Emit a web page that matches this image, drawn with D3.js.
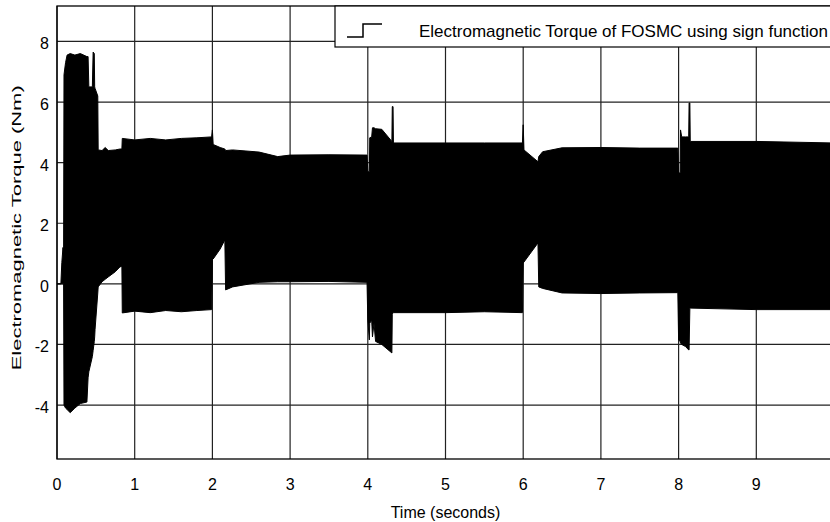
<!DOCTYPE html>
<html>
<head>
<meta charset="utf-8">
<script src="https://cdn.jsdelivr.net/npm/d3@7"></script>
<style>
  body { margin: 0; background: #fff; }
  svg { display: block; }
  text { font-family: "Liberation Sans", Arial, sans-serif; fill: #000; }
</style>
</head>
<body>
<div id="d3container"></div>
<script>
// envelope of the chattering torque signal
const timeS = [
  0.000, 0.050, 0.062, 0.077, 0.085, 0.090, 0.110, 0.130, 0.170, 0.230,
  0.300, 0.385, 0.400, 0.410, 0.455, 0.465, 0.480, 0.485, 0.490, 0.525,
  0.530, 0.580, 0.620, 0.660, 0.750, 0.810, 0.835, 0.840, 1.000, 1.200,
  1.400, 1.600, 1.800, 1.990, 2.000, 2.010, 2.100, 2.160, 2.170, 2.260,
  2.600, 2.840, 3.000, 3.500, 3.990, 4.000, 4.020, 4.025, 4.050, 4.060,
  4.080, 4.100, 4.180, 4.310, 4.315, 4.325, 4.330, 5.000, 5.500, 5.990,
  6.000, 6.010, 6.190, 6.200, 6.250, 6.500, 7.000, 7.500, 7.990, 8.000,
  8.020, 8.025, 8.040, 8.090, 8.130, 8.135, 8.145, 8.150, 9.000, 10.000
];
const torqueMax = [
  0.00, 0.00, 0.70, 1.20, 1.00, 6.90, 7.30, 7.55, 7.60, 7.55,
  7.60, 7.50, 7.50, 6.50, 6.50, 7.65, 7.60, 6.50, 6.45, 6.20,
  4.42, 4.40, 4.50, 4.40, 4.42, 4.45, 4.45, 4.80, 4.75, 4.80,
  4.75, 4.80, 4.82, 4.85, 5.08, 4.60, 4.50, 4.45, 4.40, 4.42,
  4.35, 4.20, 4.25, 4.26, 4.25, 3.70, 3.70, 4.82, 4.85, 5.15,
  5.15, 5.12, 5.10, 4.70, 5.85, 5.85, 4.65, 4.65, 4.65, 4.65,
  5.25, 4.42, 4.03, 4.20, 4.36, 4.49, 4.50, 4.48, 4.48, 3.66,
  3.66, 5.08, 4.85, 4.85, 4.85, 5.97, 5.97, 4.70, 4.70, 4.65
];
const torqueMin = [
  0.00, 0.00, 0.00, 0.00, 0.00, -4.00, -4.10, -4.15, -4.25, -4.10,
  -3.95, -3.90, -3.10, -2.90, -2.40, -2.20, -1.90, -1.75, -1.50, -0.30,
  -0.10, 0.07, 0.15, 0.23, 0.40, 0.56, 0.58, -0.96, -0.90, -0.95,
  -0.88, -0.92, -0.88, -0.85, 0.80, 0.82, 1.15, 1.45, -0.20, -0.10,
  0.05, 0.07, 0.07, 0.08, 0.05, -1.20, -1.85, -1.30, -1.20, -1.75,
  -1.30, -1.90, -2.00, -2.28, -1.00, -0.95, -0.95, -0.95, -0.92, -0.95,
  0.69, 0.72, 1.35, -0.10, -0.15, -0.30, -0.32, -0.30, -0.29, -1.85,
  -1.90, -1.95, -2.00, -2.07, -2.18, -2.18, -0.80, -0.80, -0.85, -0.85
];
const xTicks = [0, 1, 2, 3, 4, 5, 6, 7, 8, 9];   // 10 sits just past the window edge
const yTicks = [-4, -2, 0, 2, 4, 6, 8];
const legendLabel = "Electromagnetic Torque of FOSMC using sign function";

const margin = { top: 6, left: 57 };
const width = 777;   // plot runs slightly past the window edge
const height = 453;

const data = timeS.map((t, i) => ({ t: t, hi: torqueMax[i], lo: torqueMin[i] }));

const svg = d3.select("#d3container")
  .append("svg")
  .attr("width", 830)
  .attr("height", 522);

svg.append("rect").attr("width", 830).attr("height", 522).attr("fill", "#fff");

const g = svg.append("g")
  .attr("transform", `translate(${margin.left},${margin.top})`);

const x = d3.scaleLinear().domain([0, 10]).range([0, width]);
const y = d3.scaleLinear().domain([-5.78, 9.17]).range([height, 0]);

// 网格
g.selectAll(".gx").data(xTicks).enter().append("line")
  .attr("x1", d => x(d)).attr("x2", d => x(d))
  .attr("y1", 0).attr("y2", height)
  .attr("stroke", "#222").attr("stroke-width", 1.2);
g.selectAll(".gy").data(yTicks).enter().append("line")
  .attr("x1", 0).attr("x2", width)
  .attr("y1", d => y(d)).attr("y2", d => y(d))
  .attr("stroke", "#222").attr("stroke-width", 1.2);

g.append("clipPath").attr("id", "clip")
  .append("rect").attr("width", width).attr("height", height);

// 信号包络
const area = d3.area()
  .x(d => x(d.t))
  .y0(d => y(d.lo))
  .y1(d => y(d.hi));

g.append("path")
  .datum(data)
  .attr("clip-path", "url(#clip)")
  .attr("d", area)
  .attr("fill", "#000")
  .attr("stroke", "#000")
  .attr("stroke-width", 1);

// 边框
g.append("rect")
  .attr("width", width).attr("height", height)
  .attr("fill", "none").attr("stroke", "#000").attr("stroke-width", 1.3);

// 刻度标签
g.selectAll(".xl").data(xTicks).enter().append("text")
  .attr("x", d => x(d)).attr("y", height + 31)
  .attr("text-anchor", "middle")
  .style("font-size", "16px")
  .text(d => d);
g.selectAll(".yl").data(yTicks).enter().append("text")
  .attr("x", -8).attr("y", d => y(d) + 8)
  .attr("text-anchor", "end")
  .style("font-size", "16px")
  .text(d => d);

// 轴标签
g.append("text")
  .attr("x", x(5)).attr("y", height + 59)
  .attr("text-anchor", "middle")
  .style("font-size", "16px")
  .text("Time (seconds)");
g.append("text")
  .attr("transform", `translate(${21 - margin.left},${y(1.85)}) rotate(-90)`)
  .attr("text-anchor", "middle")
  .style("font-size", "13px")
  .attr("textLength", 285)
  .attr("lengthAdjust", "spacingAndGlyphs")
  .text("Electromagnetic Torque (Nm)");

// 图例
const lg = svg.append("g");
lg.append("rect")
  .attr("x", 335).attr("y", margin.top)
  .attr("width", 520).attr("height", 41)
  .attr("fill", "#fff").attr("stroke", "#000").attr("stroke-width", 1.2);
lg.append("path")
  .attr("d", "M347,37H363V24H382")
  .attr("fill", "none").attr("stroke", "#000").attr("stroke-width", 1.5);
lg.append("text")
  .attr("x", 419).attr("y", 37)
  .style("font-size", "17px")
  .attr("textLength", 409)
  .attr("lengthAdjust", "spacingAndGlyphs")
  .text(legendLabel);
</script>
</body>
</html>
